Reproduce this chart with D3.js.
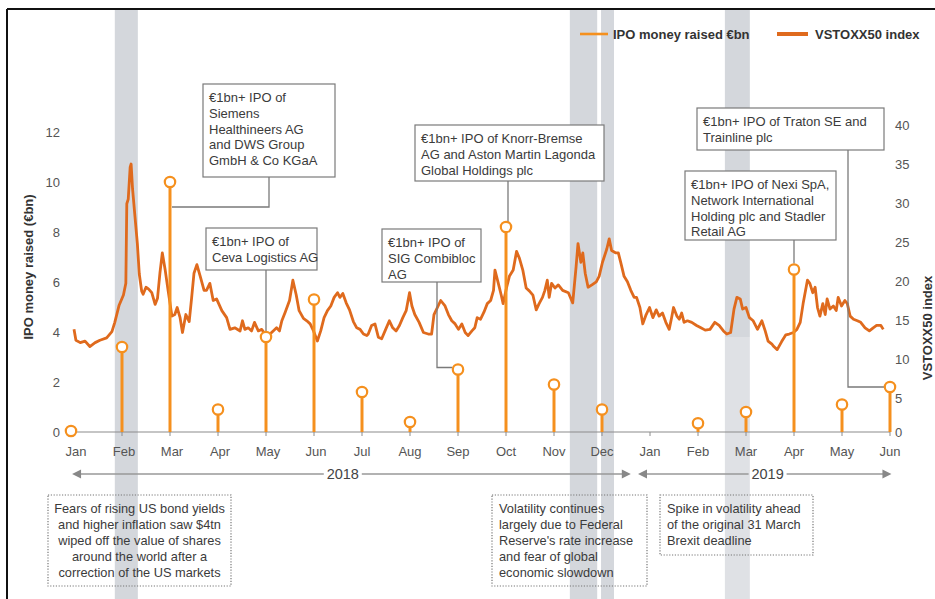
<!DOCTYPE html>
<html>
<head>
<meta charset="utf-8">
<script src="https://cdn.jsdelivr.net/npm/d3@7/dist/d3.min.js"></script>
<style>
  html, body { margin: 0; padding: 0; background: #fff; }
  svg { display: block; font-family: "Liberation Sans", Arial, Helvetica, sans-serif; }
</style>
</head>
<body>
<svg id="chart" width="935" height="599"></svg>
<script>
// ---- data ----
const monthLabels = ["Jan","Feb","Mar","Apr","May","Jun","Jul","Aug","Sep","Oct","Nov","Dec",
                     "Jan","Feb","Mar","Apr","May","Jun"];
// IPO money raised per month (€bn); null = no IPO that month
const ipoRaised = [0, 3.4, 10.0, 0.9, 3.8, 5.3, 1.6, 0.4, 2.5, 8.2, 1.9, 0.9,
                   null, 0.35, 0.8, 6.5, 1.1, 1.8];
const leftTicks = [0, 2, 4, 6, 8, 10, 12];
const rightTicks = [0, 5, 10, 15, 20, 25, 30, 35, 40];

// VSTOXX50 index: time in months since 1 Jan 2018, and index level
const vstoxxMonth = [
  0.00,0.04,0.13,0.23,0.33,0.44,0.54,0.68,0.79,0.85,0.94,1.03,1.08,1.10,1.13,1.17,1.19,1.22,1.27,1.32,
  1.36,1.41,1.44,1.50,1.55,1.62,1.69,1.74,1.79,1.84,1.90,1.96,2.04,2.10,2.15,2.21,2.26,2.33,2.40,2.45,
  2.50,2.56,2.63,2.71,2.76,2.83,2.90,2.97,3.08,3.18,3.25,3.35,3.46,3.51,3.56,3.63,3.70,3.76,3.84,3.91,
  3.98,4.05,4.15,4.22,4.28,4.33,4.40,4.49,4.56,4.63,4.69,4.78,4.85,4.92,4.99,5.07,5.14,5.21,5.28,5.35,
  5.42,5.49,5.54,5.60,5.67,5.74,5.82,5.89,5.96,6.03,6.10,6.13,6.20,6.27,6.34,6.41,6.48,6.57,6.64,6.71,
  6.78,6.85,6.92,6.99,7.04,7.10,7.19,7.28,7.38,7.45,7.50,7.64,7.73,7.80,7.87,7.94,8.01,8.08,8.15,8.21,
  8.29,8.35,8.40,8.47,8.54,8.61,8.68,8.74,8.77,8.84,8.90,8.94,9.01,9.07,9.15,9.22,9.28,9.35,9.42,9.49,
  9.56,9.63,9.69,9.76,9.81,9.86,9.90,9.95,10.02,10.09,10.18,10.30,10.39,10.46,10.50,10.56,10.60,10.65,10.71,10.79,
  10.88,10.94,11.01,11.10,11.15,11.20,11.29,11.34,11.39,11.46,11.53,11.60,11.67,11.72,11.79,11.85,11.92,11.99,12.06,12.13,
  12.19,12.26,12.33,12.40,12.45,12.49,12.56,12.61,12.66,12.71,12.78,12.87,12.97,13.06,13.15,13.25,13.35,13.44,13.53,13.60,
  13.68,13.75,13.81,13.88,13.93,14.00,14.07,14.15,14.24,14.33,14.40,14.46,14.54,14.58,14.65,14.74,14.83,14.90,14.99,15.06,
  15.13,15.19,15.28,15.33,15.39,15.44,15.49,15.54,15.60,15.65,15.69,15.75,15.82,15.88,15.92,15.99,16.06,16.11,16.17,16.24,
  16.32,16.39,16.48,16.57,16.65,16.72,16.81,16.86
];
const vstoxxValue = [
  13.8,12.4,12.1,12.3,11.6,12.1,12.4,12.7,13.5,14.7,16.9,18.2,19.7,29.9,30.5,34.6,35.0,31.8,28.3,24.8,
  20.9,18.7,18.3,19.2,19.0,18.5,17.0,17.8,21.0,23.6,21.4,18.8,15.5,15.7,16.6,15.3,13.4,15.7,14.8,17.8,
  21.0,22.1,20.6,18.8,18.8,19.7,17.5,17.7,16.2,15.3,13.8,14.0,13.6,14.9,13.8,14.0,13.6,14.7,13.6,13.8,
  13.2,13.0,13.6,14.0,13.6,14.9,16.0,17.5,20.1,18.2,16.2,15.2,14.9,14.5,13.6,12.3,13.6,15.3,16.2,16.8,
  17.9,18.5,17.9,18.4,17.2,16.3,14.8,14.0,13.8,13.2,13.0,13.2,14.3,14.5,12.8,12.6,13.6,14.9,14.0,13.6,
  14.3,15.3,16.2,18.5,16.8,15.7,14.7,13.4,13.2,13.2,15.7,17.5,16.8,15.7,14.9,14.5,13.8,14.5,13.4,13.0,
  13.6,14.0,15.3,15.1,16.0,17.1,17.5,18.8,21.4,19.7,18.2,17.1,19.1,20.6,21.4,23.8,22.9,21.4,19.1,18.7,
  18.2,16.3,17.1,17.9,18.8,20.1,17.9,19.7,19.1,19.5,18.8,18.5,17.2,21.8,24.8,22.4,23.6,21.0,19.2,19.5,
  19.9,20.6,22.4,24.1,25.4,23.9,23.6,23.6,22.4,20.6,19.9,18.8,17.9,17.9,16.6,14.5,15.7,16.6,15.3,16.3,
  15.5,15.9,14.7,13.8,15.3,16.6,15.5,15.1,15.9,14.7,14.9,14.7,14.3,14.0,13.7,13.8,14.7,14.3,13.6,13.2,
  13.4,16.4,17.9,17.7,16.4,16.6,15.3,14.9,13.8,14.9,13.6,12.3,11.9,11.6,11.2,12.2,13.1,13.2,13.4,13.8,
  14.7,17.1,20.1,19.7,18.5,19.2,16.6,15.5,17.1,15.7,17.7,16.4,16.8,16.2,17.9,16.8,17.5,17.1,15.5,15.1,
  14.9,14.7,14.0,13.6,14.0,14.3,14.3,13.8
];

// shaded periods of elevated volatility (months since 1 Jan 2018)
const volatilityPeriods = [[0.85, 1.33], [10.33, 10.9], [10.98, 11.25], [13.56, 14.08]];

const legendItems = ["IPO money raised €bn", "VSTOXX50 index"];
const yearLabels = ["2018", "2019"];

const callouts = [
  { month: 2,  lines: ["€1bn+ IPO of", "Siemens", "Healthineers AG", "and DWS Group", "GmbH & Co KGaA"] },
  { month: 4,  lines: ["€1bn+ IPO of", "Ceva Logistics AG"] },
  { month: 8,  lines: ["€1bn+ IPO of", "SIG Combibloc", "AG"] },
  { month: 9,  lines: ["€1bn+ IPO of Knorr-Bremse", "AG and Aston Martin Lagonda", "Global Holdings plc"] },
  { month: 17, lines: ["€1bn+ IPO of Traton SE and", "Trainline plc"] },
  { month: 15, lines: ["€1bn+ IPO of Nexi SpA,", "Network International", "Holding plc and Stadler", "Retail AG"] }
];
const notes = [
  { lines: ["Fears of rising US bond yields", "and higher inflation saw $4tn", "wiped off the value of shares",
            "around the world after a", "correction of the US markets"], align: "middle" },
  { lines: ["Volatility continues", "largely due to Federal", "Reserve's rate increase",
            "and fear of global", "economic slowdown"], align: "start" },
  { lines: ["Spike in volatility ahead", "of the original 31 March", "Brexit deadline"], align: "start" }
];

// ---- styling ----
const IPO_COLOR = "#f5901e";
const LINE_COLOR = "#df6a1d";
const TEXT = "#3b3b3b";
const GRID = "#8c8c8c";
const BAND = "#d4d7dc";

const svg = d3.select("#chart");
const W = 935, H = 599;

// ---- scales ----
const x = d3.scaleLinear().domain([0, 17]).range([74, 890]);
const yL = d3.scaleLinear().domain([0, 12]).range([432, 132]);
const yR = d3.scaleLinear().domain([0, 5, 40]).range([432, 398, 125]);

// frame
svg.append("line").attr("x1", 7).attr("x2", W).attr("y1", 9).attr("y2", 9)
  .attr("stroke", "#111").attr("stroke-width", 2);
svg.append("line").attr("x1", 7).attr("x2", 7).attr("y1", 9).attr("y2", H)
  .attr("stroke", "#111").attr("stroke-width", 2);

// volatility bands (the Brexit band fades below the index line)
const bandG = svg.append("g");
volatilityPeriods.forEach((d, i) => {
  const bx = x(d[0]), bw = x(d[1]) - x(d[0]);
  if (i === 3) {
    bandG.append("rect").attr("x", bx).attr("width", bw).attr("y", 10).attr("height", 327).attr("fill", BAND);
    bandG.append("rect").attr("x", bx).attr("width", bw).attr("y", 337).attr("height", H - 337)
      .attr("fill", BAND).attr("opacity", 0.75);
  } else {
    bandG.append("rect").attr("x", bx).attr("width", bw).attr("y", 10).attr("height", H - 10).attr("fill", BAND);
  }
});

// baseline and month ticks
svg.append("line").attr("x1", x(0) + 3).attr("x2", x(17)).attr("y1", yL(0)).attr("y2", yL(0))
  .attr("stroke", GRID).attr("stroke-width", 1.2);
svg.append("g").selectAll("line").data(monthLabels).join("line")
  .attr("x1", (d, i) => x(i)).attr("x2", (d, i) => x(i))
  .attr("y1", yL(0)).attr("y2", yL(0) + 4)
  .attr("stroke", GRID);

// month labels
svg.append("g").selectAll("text").data(monthLabels).join("text")
  .attr("x", (d, i) => x(i) + (i < 6 ? 2 : 0)).attr("y", 456)
  .attr("text-anchor", "middle").attr("font-size", 13).attr("fill", "#555")
  .text(d => d);

// left axis ticks
svg.append("g").selectAll("text").data(leftTicks).join("text")
  .attr("x", 60).attr("y", d => yL(d)).attr("dy", "0.35em")
  .attr("text-anchor", "end").attr("font-size", 13).attr("fill", "#555")
  .text(d => d);
// right axis ticks
svg.append("g").selectAll("text").data(rightTicks).join("text")
  .attr("x", 895).attr("y", d => yR(d)).attr("dy", "0.35em")
  .attr("text-anchor", "start").attr("font-size", 13).attr("fill", "#555")
  .text(d => d);

// axis titles
svg.append("text").attr("transform", "translate(33,267) rotate(-90)")
  .attr("text-anchor", "middle").attr("font-size", 13).attr("font-weight", "bold").attr("fill", "#333")
  .text("IPO money raised (€bn)");
svg.append("text").attr("transform", "translate(932,328) rotate(-90)")
  .attr("text-anchor", "middle").attr("font-size", 13).attr("font-weight", "bold").attr("fill", "#333")
  .text("VSTOXX50 index");

// year spans with arrows
function arrowHead(g, px, py, dir) {
  g.append("path")
    .attr("d", `M${px},${py} l${-dir * 9},-4.5 l0,9 Z`)
    .attr("fill", "#888");
}
const yearY = 474;
const yearSpans = [
  { label: yearLabels[0], x0: x(-0.04), x1: x(11.6), tx: x(5.6) },
  { label: yearLabels[1], x0: x(11.75), x1: x(17.03), tx: x(14.45) }
];
yearSpans.forEach(s => {
  const g = svg.append("g");
  g.append("text").attr("x", s.tx).attr("y", yearY + 5)
    .attr("text-anchor", "middle").attr("font-size", 14.5).attr("fill", "#444").text(s.label);
  const half = 19;
  g.append("line").attr("x1", s.x0 + 6).attr("x2", s.tx - half).attr("y1", yearY).attr("y2", yearY)
    .attr("stroke", "#999").attr("stroke-width", 1.5);
  g.append("line").attr("x1", s.tx + half).attr("x2", s.x1 - 6).attr("y1", yearY).attr("y2", yearY)
    .attr("stroke", "#999").attr("stroke-width", 1.5);
  arrowHead(g, s.x0, yearY, -1);
  arrowHead(g, s.x1, yearY, 1);
});

// VSTOXX line
const vstoxx = vstoxxMonth.map((m, i) => ({ m, v: vstoxxValue[i] }));
svg.append("path").datum(vstoxx)
  .attr("d", d3.line().x(d => x(d.m)).y(d => yR(d.v)).curve(d3.curveLinear))
  .attr("fill", "none").attr("stroke", LINE_COLOR).attr("stroke-width", 2.8)
  .attr("stroke-linejoin", "round");

// IPO stems
const ipo = ipoRaised.map((v, i) => ({ i, v })).filter(d => d.v !== null);
svg.append("g").selectAll("line").data(ipo.filter(d => d.v > 0)).join("line")
  .attr("x1", d => x(d.i)).attr("x2", d => x(d.i))
  .attr("y1", yL(0)).attr("y2", d => yL(d.v))
  .attr("stroke", IPO_COLOR).attr("stroke-width", 3);

// callout boxes with connectors
const calloutLayout = [
  { bx: 203, by: 84,  bw: 132, bh: 93, path: c => [[269, 177], [269, 207], [x(c.month) + 2, 207]] },
  { bx: 206, by: 228, bw: 111, bh: 42, path: c => [[x(c.month), 270], [x(c.month), yL(ipoRaised[c.month]) - 6]] },
  { bx: 382, by: 229, bw: 99,  bh: 53, path: c => [[437, 282], [437, yL(ipoRaised[c.month]) - 2], [x(c.month) - 6, yL(ipoRaised[c.month]) - 2]] },
  { bx: 415, by: 125, bw: 189, bh: 56, path: c => [[x(c.month) + 2, 181], [x(c.month) + 2, yL(ipoRaised[c.month]) - 5]] },
  { bx: 697, by: 108, bw: 187, bh: 42, path: c => [[848, 150], [848, yL(ipoRaised[c.month])], [x(c.month) - 6, yL(ipoRaised[c.month])]] },
  { bx: 685, by: 171, bw: 151, bh: 69, path: c => [[x(c.month), 240], [x(c.month), yL(ipoRaised[c.month]) - 6]] }
];
const lineGen = d3.line();
callouts.forEach((c, k) => {
  const L = calloutLayout[k];
  svg.append("path").attr("d", lineGen(L.path(c)))
    .attr("fill", "none").attr("stroke", "#7a7a7a").attr("stroke-width", 1.3);
});

// IPO markers
svg.append("g").selectAll("circle").data(ipo).join("circle")
  .attr("cx", d => x(d.i) - (d.i === 0 ? 3 : 0)).attr("cy", d => yL(d.v) - (d.i === 0 ? 1 : 0))
  .attr("r", 5.2)
  .attr("fill", "#fff").attr("stroke", IPO_COLOR).attr("stroke-width", 2.2);

callouts.forEach((c, k) => {
  const L = calloutLayout[k];
  const g = svg.append("g");
  g.append("rect").attr("x", L.bx).attr("y", L.by).attr("width", L.bw).attr("height", L.bh)
    .attr("fill", "#fff").attr("stroke", "#7a7a7a").attr("stroke-width", 1.2);
  g.selectAll("text").data(c.lines).join("text")
    .attr("x", L.bx + 6).attr("y", (d, j) => L.by + 18 + j * 15.8)
    .attr("font-size", 13).attr("fill", TEXT).text(d => d);
});

// dotted explanatory notes
const noteLayout = [
  { bx: 48,  by: 495, bw: 183, bh: 91 },
  { bx: 492, by: 495, bw: 155, bh: 91 },
  { bx: 660, by: 495, bw: 153, bh: 60 }
];
notes.forEach((n, k) => {
  const L = noteLayout[k];
  const g = svg.append("g");
  g.append("rect").attr("x", L.bx).attr("y", L.by).attr("width", L.bw).attr("height", L.bh)
    .attr("fill", "none").attr("stroke", "#777").attr("stroke-width", 1.2)
    .attr("stroke-dasharray", "1.2,1.6");
  const tx = n.align === "middle" ? L.bx + L.bw / 2 : L.bx + 7;
  g.selectAll("text").data(n.lines).join("text")
    .attr("x", tx).attr("y", (d, j) => L.by + 18 + j * 15.9)
    .attr("text-anchor", n.align)
    .attr("font-size", 12.8).attr("fill", TEXT).text(d => d);
});

// legend
const legend = svg.append("g");
const lg = [
  { x0: 580, x1: 608, tx: 613, color: IPO_COLOR, w: 2.6 },
  { x0: 777, x1: 808, tx: 815, color: LINE_COLOR, w: 4 }
];
legendItems.forEach((name, i) => {
  const s = lg[i];
  legend.append("line").attr("x1", s.x0).attr("x2", s.x1).attr("y1", 34).attr("y2", 34)
    .attr("stroke", s.color).attr("stroke-width", s.w);
  legend.append("text").attr("x", s.tx).attr("y", 38.5)
    .attr("font-size", 13).attr("font-weight", "bold").attr("fill", "#333").text(name);
});
</script>
</body>
</html>
